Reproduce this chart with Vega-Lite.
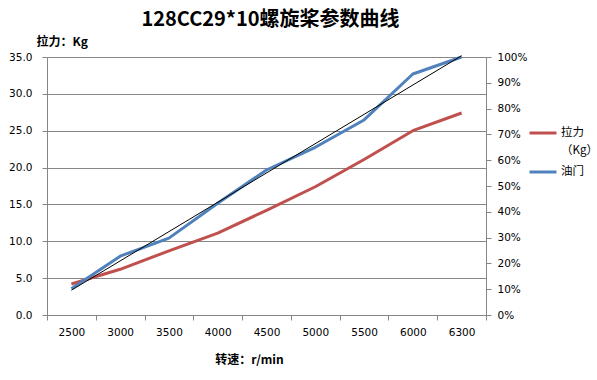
{
  "$schema": "https://vega.github.io/schema/vega-lite/v6.json",
  "width": 439,
  "height": 258,
  "autosize": {"type": "none"},
  "padding": {"left": 47, "top": 57, "right": 111, "bottom": 65},
  "background": "white",
  "title": {
    "text": "128CC29*10螺旋桨参数曲线",
    "font": "Noto Sans CJK SC",
    "fontSize": 20,
    "fontWeight": "bold",
    "color": "#000000",
    "anchor": "middle",
    "frame": "group",
    "dx": 4,
    "offset": 5
  },
  "config": {
    "view": {"stroke": null},
    "style": {"guide-label": {"lineHeight": 18}},
    "axis": {
      "labelFont": "DejaVu Sans",
      "labelFontSize": 10.5,
      "labelColor": "#000000",
      "titleFont": "Noto Sans CJK SC",
      "titleFontSize": 12,
      "titleFontWeight": "bold",
      "titleColor": "#000000",
      "domainColor": "#868686",
      "tickColor": "#868686",
      "gridColor": "#868686",
      "tickSize": 5,
      "labelOverlap": false
    },
    "legend": {
      "labelFont": "Noto Sans CJK SC",
      "labelFontSize": 11.5,
      "labelColor": "#000000"
    }
  },
  "data": {
    "values": [
      {"rpm": "2500", "series": "拉力（Kg）", "value": 4.2},
      {"rpm": "3000", "series": "拉力（Kg）", "value": 6.2},
      {"rpm": "3500", "series": "拉力（Kg）", "value": 8.7},
      {"rpm": "4000", "series": "拉力（Kg）", "value": 11.1},
      {"rpm": "4500", "series": "拉力（Kg）", "value": 14.2},
      {"rpm": "5000", "series": "拉力（Kg）", "value": 17.4},
      {"rpm": "5500", "series": "拉力（Kg）", "value": 21.1},
      {"rpm": "6000", "series": "拉力（Kg）", "value": 25.0},
      {"rpm": "6300", "series": "拉力（Kg）", "value": 27.4},
      {"rpm": "2500", "series": "油门", "value": 0.102},
      {"rpm": "3000", "series": "油门", "value": 0.228},
      {"rpm": "3500", "series": "油门", "value": 0.298},
      {"rpm": "4000", "series": "油门", "value": 0.433},
      {"rpm": "4500", "series": "油门", "value": 0.562},
      {"rpm": "5000", "series": "油门", "value": 0.65},
      {"rpm": "5500", "series": "油门", "value": 0.756},
      {"rpm": "6000", "series": "油门", "value": 0.934},
      {"rpm": "6300", "series": "油门", "value": 1.0}
    ]
  },
  "encoding": {
    "x": {
      "field": "rpm",
      "type": "ordinal",
      "scale": {"type": "band", "paddingInner": 0, "paddingOuter": 0, "domain": ["2500", "3000", "3500", "4000", "4500", "5000", "5500", "6000", "6300"]},
      "axis": {
        "title": "转速：r/min",
        "labelAngle": 0,
        "tickBand": "extent",
        "labelPadding": 7,
        "titleX": 202,
        "titleY": 48,
        "titleAlign": "center",
        "titleBaseline": "alphabetic",
        "grid": false
      }
    }
  },
  "layer": [
    {
      "transform": [{"filter": "datum.series === '拉力（Kg）'"}],
      "mark": {"type": "line", "strokeWidth": 3, "strokeJoin": "round"},
      "encoding": {
        "y": {
          "field": "value",
          "type": "quantitative",
          "scale": {"domain": [0, 35], "nice": false},
          "axis": {
            "orient": "left",
            "title": "拉力：Kg",
            "titleAngle": 0,
            "titleAlign": "left",
            "titleBaseline": "alphabetic",
            "titleX": -11,
            "titleY": -12,
            "values": [0, 5, 10, 15, 20, 25, 30, 35],
            "format": ".1f",
            "grid": true,
            "labelPadding": 10
          }
        },
        "color": {
          "field": "series",
          "type": "nominal",
          "scale": {"domain": ["拉力（Kg）", "油门"], "range": ["#C0504D", "#4F81BD"]},
          "legend": {
            "orient": "none",
            "legendX": 481,
            "legendY": 61,
            "title": null,
            "symbolType": "stroke",
            "symbolStrokeWidth": 3,
            "symbolSize": 729,
            "labelBaseline": "middle",
            "labelOffset": 3,
            "rowPadding": -3,
            "labelExpr": "datum.label === '拉力（Kg）' ? ['拉力', '（Kg）'] : datum.label",
            "encode": {
              "labels": {
                "dy": {"signal": "datum.label === '油门' ? -4 : 6"},
                "lineHeight": {"value": 18}
              }
            }
          }
        }
      }
    },
    {
      "encoding": {
        "y": {
          "field": "value",
          "type": "quantitative",
          "scale": {"domain": [0, 1], "nice": false},
          "axis": {
            "orient": "right",
            "title": null,
            "values": [0, 0.1, 0.2, 0.3, 0.4, 0.5, 0.6, 0.7, 0.8, 0.9, 1.0],
            "format": ".0%",
            "grid": false,
            "labelOverlap": false,
            "labelPadding": 6
          }
        }
      },
      "layer": [
        {
          "transform": [{"filter": "datum.series === '油门'"}],
          "mark": {"type": "line", "strokeWidth": 3, "strokeJoin": "round"},
          "encoding": {
            "color": {"field": "series", "type": "nominal"}
          }
        },
        {
          "data": {
            "values": [
              {"rpm": "2500", "value": 0.096},
              {"rpm": "6300", "value": 1.005}
            ]
          },
          "mark": {"type": "line", "strokeWidth": 1, "color": "#000000"}
        }
      ]
    }
  ],
  "resolve": {"scale": {"y": "independent"}}
}
